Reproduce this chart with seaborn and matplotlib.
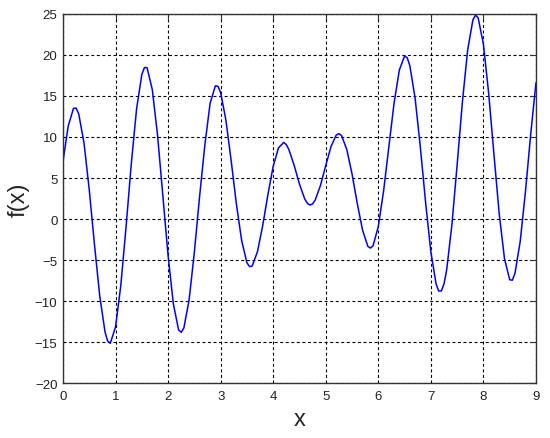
import matplotlib
matplotlib.use("Agg")
import matplotlib.pyplot as plt
import pandas as pd
import seaborn as sns

# values
x_vals = [0.0, 0.1, 0.2, 0.25, 0.3, 0.4, 0.5, 0.6, 0.7, 0.8, 0.85, 0.9, 1.0,
          1.1, 1.2, 1.3, 1.4, 1.5, 1.55, 1.6, 1.7, 1.8, 1.9, 2.0,
          2.1, 2.2, 2.25, 2.3, 2.4, 2.5, 2.6, 2.7, 2.8, 2.9, 2.95, 3.0,
          3.1, 3.2, 3.3, 3.4, 3.5, 3.55, 3.6, 3.7, 3.8, 3.9, 4.0,
          4.1, 4.2, 4.25, 4.3, 4.4, 4.5, 4.6, 4.65, 4.7, 4.75, 4.8, 4.9, 5.0,
          5.1, 5.2, 5.25, 5.3, 5.4, 5.5, 5.6, 5.7, 5.8, 5.85, 5.9, 6.0,
          6.1, 6.2, 6.3, 6.4, 6.5, 6.55, 6.6, 6.7, 6.8, 6.9, 7.0,
          7.1, 7.15, 7.2, 7.25, 7.3, 7.4, 7.5, 7.6, 7.7, 7.8, 7.85, 7.9, 8.0,
          8.1, 8.2, 8.3, 8.4, 8.5, 8.55, 8.6, 8.7, 8.8, 8.9, 9.0]
fx_vals = [7.0, 11.34, 13.49, 13.52, 12.81, 9.29, 3.57, -3.15, -9.40, -13.76, -14.87, -15.15, -13.16,
           -8.11, -0.98, 6.73, 13.40, 17.60, 18.47, 18.45, 15.77, 10.18, 2.87, -4.46,
           -10.33, -13.51, -13.81, -13.28, -9.86, -4.04, 2.78, 9.04, 14.13, 16.23, 16.18, 15.41,
           12.07, 7.13, 1.81, -2.63, -5.33, -5.80, -5.73, -3.99, -0.82, 3.00, 6.43,
           8.67, 9.34, 9.07, 8.45, 6.52, 4.25, 2.45, 1.92, 1.71, 1.85, 2.32, 4.10, 6.53,
           8.83, 10.24, 10.41, 10.18, 8.49, 5.50, 1.88, -1.34, -3.32, -3.54, -3.26, -0.91,
           3.39, 8.77, 14.13, 18.16, 19.87, 19.66, 18.69, 14.74, 8.76, 2.01, -4.02,
           -7.92, -8.78, -8.76, -7.90, -6.24, -0.73, 6.60, 14.26, 20.59, 24.28, 24.86, 24.52, 21.29,
           15.32, 7.91, 0.68, -4.79, -7.40, -7.46, -6.63, -2.74, 3.35, 10.34, 16.61]

df = pd.DataFrame({"x": x_vals, "fx": fx_vals})

sns.set_style("white")
plt.rcParams['font.family'] = ['Liberation Sans', 'DejaVu Sans']

fig = plt.figure(figsize=(5.5, 4.39), dpi=100)
ax = fig.add_axes([0.1145, 0.125, 0.86, 0.841])

sns.lineplot(data=df, x="x", y="fx", ax=ax, color="#0000ff", linewidth=1.1,
             estimator=None, sort=False)

ax.set_xlim(0, 9)
ax.set_ylim(-20, 25)
ax.set_xticks(range(0, 10))
ax.set_yticks(range(-20, 30, 5))
ax.grid(True, color="black", linestyle=(0, (2.7, 2.3)), linewidth=0.8)
ax.tick_params(direction="in", length=4, labelsize=9.5, top=True, right=True,
               colors="#333333", labelcolor="#222222")
ax.tick_params(axis="x", pad=5)
ax.tick_params(axis="y", pad=4)
for s in ax.spines.values():
    s.set_color("#333333")
    s.set_linewidth(1.0)
ax.set_xlabel("x", fontsize=17, labelpad=4)
ax.set_ylabel("f(x)", fontsize=17, labelpad=4)

fig.savefig("out.png", dpi=100)
